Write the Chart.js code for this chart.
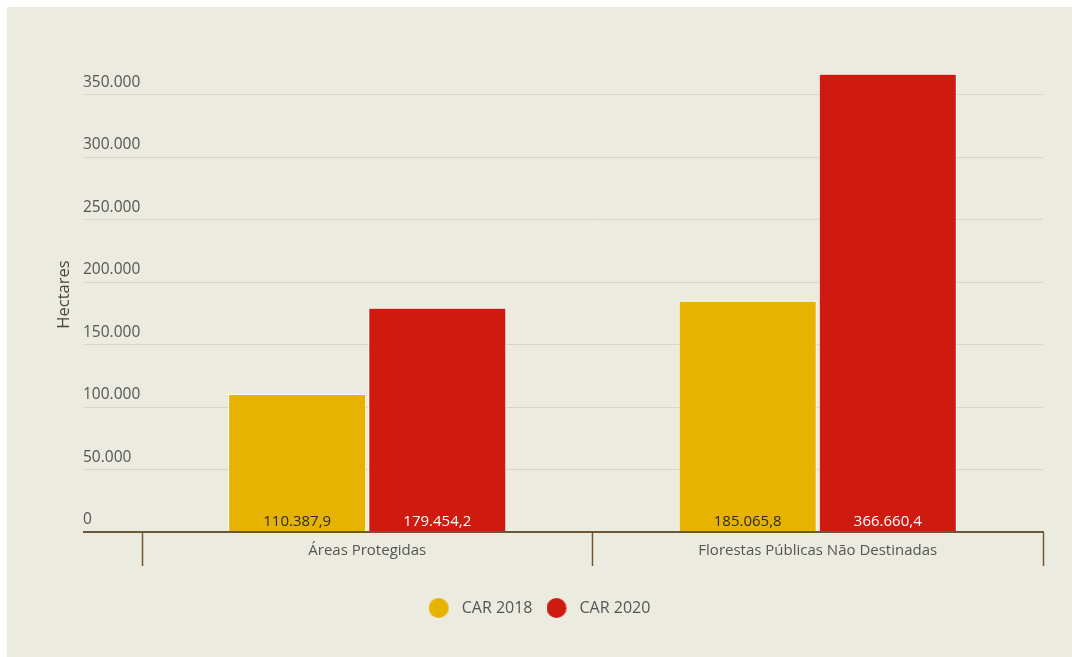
<!DOCTYPE html>
<html lang="pt-BR">
<head>
<meta charset="utf-8">
<title>CAR 2018 x CAR 2020</title>
<script src="https://cdn.jsdelivr.net/npm/chart.js@4.4.1/dist/chart.umd.min.js"></script>
<style>
    html, body { margin: 0; padding: 0; background: #ffffff; }
    #box {
        position: absolute;
        left: 7px;
        top: 7px;
        width: 1065px;
        height: 650px;
        background: #ecebe0;
    }
</style>
</head>
<body>
<div id="box"><canvas id="carChart" width="1065" height="650"></canvas></div>
<script>
// Hectares by category
const categories = ['Áreas Protegidas', 'Florestas Públicas Não Destinadas'];
const car2018 = [110387.9, 185065.8];
const car2020 = [179454.2, 366660.4];
const yTicks = [0, 50000, 100000, 150000, 200000, 250000, 300000, 350000];

const yellow = '#e6b300';
const red = '#cf1a10';
const brown = '#6e5636';
const gridColor = '#d9d4c6';
const textColor = '#555555';
const fontFamily = '"Open Sans", "Noto Sans", sans-serif';

// 350000 -> "350.000", 110387.9 -> "110.387,9"
const fmt = (v, decimals) => {
    const parts = v.toFixed(decimals).split('.');
    parts[0] = parts[0].replace(/\B(?=(\d{3})+(?!\d))/g, '.');
    return parts.join(',');
};

// legend marker: a round dot with some room before the text
const legendDot = (color) => {
    const c = document.createElement('canvas');
    c.width = 25;
    c.height = 20;
    const g = c.getContext('2d');
    g.fillStyle = color;
    g.beginPath();
    g.arc(10, 10, 10, 0, Math.PI * 2);
    g.fill();
    return c;
};

// value labels sitting at the foot of each bar
const barValueLabels = {
    id: 'barValueLabels',
    afterDatasetsDraw(chart) {
        const ctx = chart.ctx;
        ctx.save();
        ctx.font = '15px ' + fontFamily;
        ctx.textAlign = 'center';
        ctx.textBaseline = 'middle';
        chart.data.datasets.forEach((ds, i) => {
            const meta = chart.getDatasetMeta(i);
            meta.data.forEach((bar, j) => {
                ctx.fillStyle = i === 0 ? '#2b2b2b' : '#ffffff';
                ctx.fillText(fmt(ds.data[j], 1), bar.x, bar.base - 9);
            });
        });
        ctx.restore();
    }
};

new Chart(document.getElementById('carChart'), {
    type: 'bar',
    data: {
        labels: categories,
        datasets: [{
            label: 'CAR 2018',
            data: car2018,
            backgroundColor: yellow,
            borderColor: '#ffffff',
            borderWidth: 1,
            pointStyle: legendDot(yellow),
            categoryPercentage: 0.622,
            barPercentage: 0.985
        }, {
            label: 'CAR 2020',
            data: car2020,
            backgroundColor: red,
            borderColor: '#ffffff',
            borderWidth: 1,
            pointStyle: legendDot(red),
            categoryPercentage: 0.622,
            barPercentage: 0.985
        }]
    },
    options: {
        responsive: false,
        animation: false,
        layout: {
            // same left/right padding so the legend stays centred on the canvas
            padding: { left: 29, right: 29, top: 50, bottom: 31 }
        },
        scales: {
            x: {
                border: { display: true, color: brown, width: 2 },
                grid: {
                    offset: true,
                    drawOnChartArea: false,
                    tickLength: 34,
                    tickColor: brown,
                    tickWidth: 1.5
                },
                ticks: {
                    color: textColor,
                    font: { family: fontFamily, size: 15 },
                    padding: -24
                },
                afterFit: (scale) => { scale.height = 54; }
            },
            y: {
                min: 0,
                max: 380000,
                border: { display: false },
                afterBuildTicks: (scale) => {
                    scale.ticks = yTicks.map(v => ({ value: v }));
                },
                afterFit: (scale) => { scale.width = 106; },
                grid: {
                    tickLength: 59,
                    color: (c) => c.tick && c.tick.value === 0 ? brown : gridColor,
                    tickColor: (c) => c.tick && c.tick.value === 0 ? brown : gridColor,
                    lineWidth: (c) => c.tick && c.tick.value === 0 ? 2 : 1,
                    tickWidth: (c) => c.tick && c.tick.value === 0 ? 2 : 1
                },
                ticks: {
                    mirror: true,
                    crossAlign: 'near',
                    padding: -59,
                    labelOffset: -12,
                    color: textColor,
                    font: { family: fontFamily, size: 15.5 },
                    callback: (v) => fmt(v, 0)
                },
                title: {
                    display: true,
                    text: 'Hectares',
                    color: '#444444',
                    padding: { top: 18, bottom: 4 },
                    font: { family: fontFamily, size: 16.5 }
                }
            }
        },
        plugins: {
            legend: {
                position: 'bottom',
                labels: {
                    usePointStyle: true,
                    pointStyleWidth: 25,
                    boxHeight: 16,
                    padding: 14,
                    color: textColor,
                    font: { family: fontFamily, size: 16 }
                }
            },
            tooltip: { enabled: false }
        }
    },
    plugins: [barValueLabels]
});
</script>
</body>
</html>
